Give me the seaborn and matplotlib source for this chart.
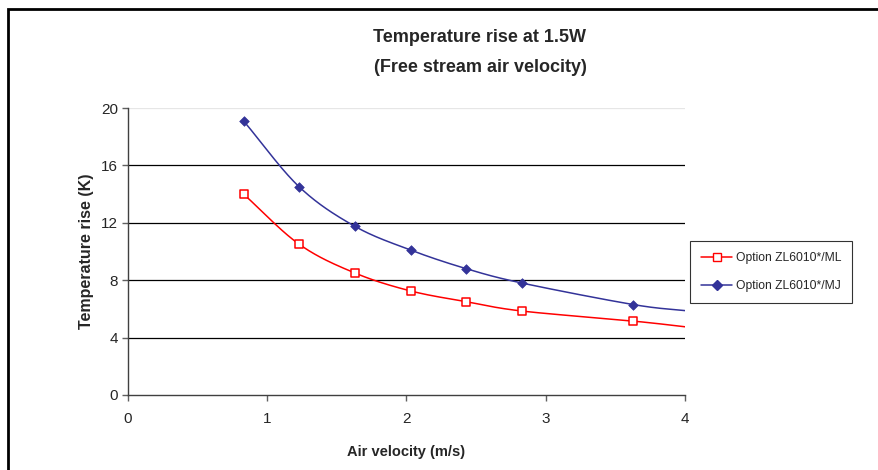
import numpy as np
import pandas as pd
import seaborn as sns
import matplotlib
matplotlib.use("Agg")
import matplotlib.pyplot as plt
from matplotlib.patches import Rectangle

# data (last point sits just past the axis edge)
velocity = [0.83, 1.23, 1.63, 2.03, 2.43, 2.83, 3.63, 4.03]
temp_ml = [14.0, 10.5, 8.5, 7.25, 6.5, 5.85, 5.15, 4.72]
temp_mj = [19.1, 14.5, 11.75, 10.1, 8.8, 7.8, 6.3, 5.85]
n_marked = 7
series_names = ["Option ZL6010*/ML", "Option ZL6010*/MJ"]
colors = ["#ff0000", "#333399"]


def smooth(x, y, n=30):
    # Catmull-Rom style curve, close to Excel's smoothed line
    x = np.asarray(x, float)
    y = np.asarray(y, float)
    px = np.concatenate([[2 * x[0] - x[1]], x, [2 * x[-1] - x[-2]]])
    py = np.concatenate([[2 * y[0] - y[1]], y, [2 * y[-1] - y[-2]]])
    xs, ys = [], []
    t = np.linspace(0, 1, n)
    for i in range(1, len(px) - 2):
        for p, out in ((px, xs), (py, ys)):
            p0, p1, p2, p3 = p[i - 1], p[i], p[i + 1], p[i + 2]
            out.extend(0.5 * (2 * p1 + (-p0 + p2) * t
                              + (2 * p0 - 5 * p1 + 4 * p2 - p3) * t ** 2
                              + (-p0 + 3 * p1 - 3 * p2 + p3) * t ** 3))
    return np.array(xs), np.array(ys)


sns.set_style("white")
plt.rcParams["font.family"] = ["Liberation Sans", "DejaVu Sans"]

fig = plt.figure(figsize=(8.79, 4.7), dpi=100)
ax = fig.add_axes([128 / 879, 1 - 395 / 470, 557 / 879, 287 / 470])

handles = []
for name, ys, c, mk in zip(series_names, [temp_ml, temp_mj], colors, ["s", "D"]):
    sx, sy = smooth(velocity, ys)
    curve = pd.DataFrame({"x": sx, "y": sy})
    sns.lineplot(data=curve, x="x", y="y", ax=ax, color=c, lw=1.1, sort=False,
                 estimator=None)
    pts = pd.DataFrame({"x": velocity[:n_marked], "y": ys[:n_marked]})
    if mk == "s":
        sns.scatterplot(data=pts, x="x", y="y", ax=ax, marker="s", s=38,
                        facecolor="white", edgecolor=c, linewidth=1.1, zorder=5)
    else:
        sns.scatterplot(data=pts, x="x", y="y", ax=ax, marker="D", s=24,
                        color=c, edgecolor=c, linewidth=0.5, zorder=5)
    handles.append(plt.Line2D([], [], color=c, lw=1.1, marker=mk,
                              markersize=6 if mk == "s" else 5,
                              markerfacecolor="white" if mk == "s" else c,
                              markeredgecolor=c))

ax.set_xlim(0, 4)
ax.set_ylim(0, 20)
ax.set_xticks([0, 1, 2, 3, 4])
ax.set_yticks([0, 4, 8, 12, 16, 20])
for yv in [4, 8, 12, 16]:
    ax.axhline(yv, color="black", lw=0.9, zorder=1)
ax.axhline(20, color="#e6e6e6", lw=0.9, zorder=1)
for s in ["top", "right"]:
    ax.spines[s].set_visible(False)
for s in ["left", "bottom"]:
    ax.spines[s].set_color("#404040")
    ax.spines[s].set_linewidth(1.0)
ax.tick_params(axis="both", direction="out", length=4, width=1.0, color="#606060",
               labelsize=11, bottom=True, left=True)
ax.tick_params(axis="x", pad=8)
ax.tick_params(axis="y", pad=3)
ax.set_xlabel("Air velocity (m/s)", fontsize=10.5, fontweight="bold", labelpad=14)
ax.set_ylabel("Temperature rise (K)", fontsize=11.5, fontweight="bold", labelpad=5)

fig.text(480 / 879, 1 - 38 / 470, "Temperature rise at 1.5W", ha="center",
         va="center", fontsize=13, fontweight="bold")
fig.text(480 / 879, 1 - 67 / 470, "(Free stream air velocity)", ha="center",
         va="center", fontsize=13, fontweight="bold")

leg = fig.legend(handles, series_names, loc="center left",
                 bbox_to_anchor=(690 / 879, 1 - 272 / 470), fontsize=8.7,
                 frameon=True, fancybox=False, edgecolor="black",
                 handlelength=2.6, borderpad=0.9, labelspacing=1.35,
                 handletextpad=0.3, borderaxespad=0)
leg.get_frame().set_linewidth(0.8)

fig.patches.append(Rectangle((8 / 879, -0.1), 1.0, 1 - 9 / 470 + 0.1,
                             transform=fig.transFigure, fill=False,
                             edgecolor="black", lw=2))

fig.savefig("out.png", dpi=100)
